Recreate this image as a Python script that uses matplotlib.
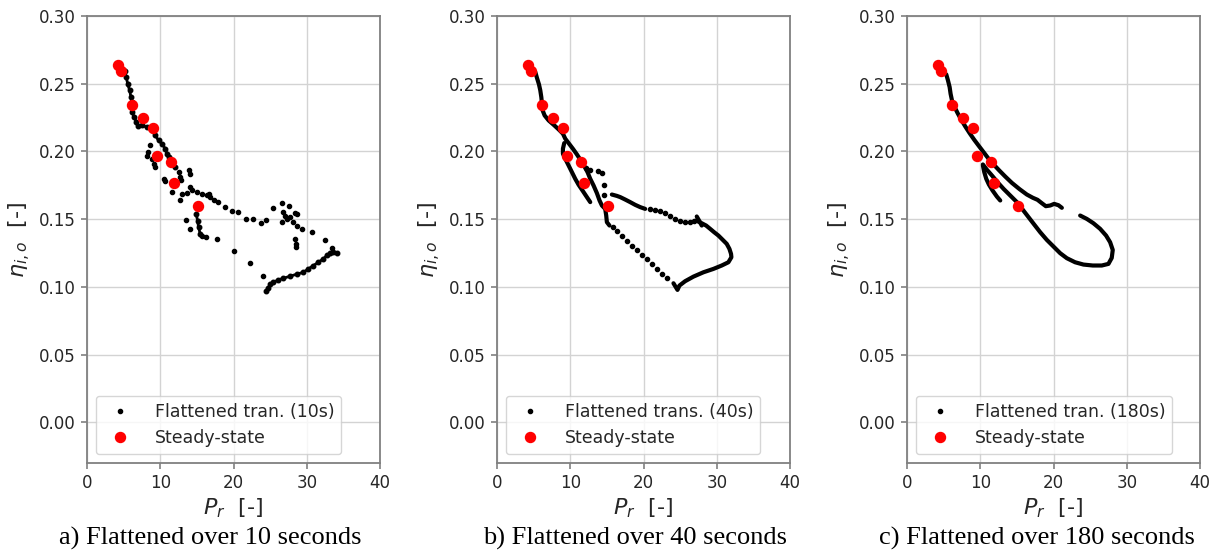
import matplotlib
matplotlib.use("Agg")
import matplotlib.pyplot as plt
from matplotlib.ticker import FormatStrFormatter

plt.rcParams["font.family"] = ["DejaVu Sans"]
plt.rcParams["mathtext.fontset"] = "dejavusans"

# ---------------- data ----------------
# steady-state operating points (same in all three panels)
ss_pr = [4.23, 4.64, 6.14, 7.64, 9.00, 9.59, 11.45, 11.90, 15.14]
ss_eta = [0.264, 0.2596, 0.2345, 0.2246, 0.2170, 0.1963, 0.1921, 0.1767, 0.1594]

# (a) flattened over 10 s : densely sampled stretches
a_main_pr = [5.14, 5.36, 5.55, 5.82, 6.00, 6.14, 6.14, 6.14, 6.45, 6.73, 6.91, 7.50,
             8.18, 8.86, 9.32, 9.77, 10.23, 10.68, 10.91, 11.14, 11.45, 12.05]
a_main_eta = [0.2591, 0.2549, 0.2500, 0.2451, 0.2401, 0.2365, 0.2328, 0.2291, 0.2254,
              0.2217, 0.2185, 0.2192, 0.2180, 0.2155, 0.2118, 0.2081, 0.2057, 0.2020,
              0.1983, 0.1958, 0.1921, 0.1884]
a_low_pr = [24.45, 24.77, 25.00, 25.45, 26.14, 26.82, 27.73, 28.64, 29.55, 30.23, 30.91,
            31.59, 32.27, 32.73, 33.18, 33.64, 34.09]
a_low_eta = [0.0973, 0.0993, 0.1022, 0.1034, 0.1052, 0.1064, 0.1079, 0.1094, 0.1108,
             0.1133, 0.1158, 0.1182, 0.1207, 0.1232, 0.1249, 0.1256, 0.1249]
a_drop_pr = [14.91, 15.09, 15.23, 15.45]
a_drop_eta = [0.1539, 0.1490, 0.1441, 0.1392]
# (a) isolated samples
a_dots_pr = [8.55, 8.27, 8.18, 8.86, 9.09, 9.32, 12.50, 12.73, 12.86, 13.86, 14.09, 10.45,
             10.68, 11.59, 12.95, 12.73, 13.64, 14.09, 14.32, 15.00, 15.68, 16.36, 16.82,
             17.27, 17.95, 18.86, 19.77, 20.55, 16.59, 21.73, 22.73, 23.77, 24.45, 25.36,
             26.59, 27.64, 26.82, 27.05, 26.59, 27.27, 27.73, 28.41, 28.64, 28.18, 28.64,
             29.32, 30.68, 28.41, 28.55, 28.50, 32.50, 33.41, 20.00, 22.27, 24.00, 15.68,
             16.27, 13.55, 14.00, 17.73]
a_dots_eta = [0.2044, 0.1995, 0.1970, 0.1946, 0.1909, 0.1884, 0.1847, 0.1810, 0.1786,
              0.1860, 0.1835, 0.1798, 0.1781, 0.1700, 0.1687, 0.1643, 0.1692, 0.1741,
              0.1712, 0.1700, 0.1687, 0.1675, 0.1663, 0.1643, 0.1626, 0.1589, 0.1564,
              0.1552, 0.1687, 0.1502, 0.1498, 0.1470, 0.1495, 0.1584, 0.1618, 0.1594,
              0.1552, 0.1527, 0.1478, 0.1502, 0.1515, 0.1547, 0.1539, 0.1478, 0.1453,
              0.1429, 0.1404, 0.1355, 0.1318, 0.1293, 0.1347, 0.1288, 0.1264, 0.1177,
              0.1084, 0.1379, 0.1372, 0.1495, 0.1429, 0.1355]

# (b) flattened over 40 s : densely sampled stretches
b_main_pr = [5.23, 5.45, 5.73, 5.91, 6.05, 6.14, 6.23, 6.50, 7.05, 7.73, 8.41, 9.00, 9.32,
             9.77, 10.36, 10.91, 11.45, 11.95, 12.36, 12.73, 13.18, 13.64, 14.00, 14.32,
             14.77, 14.91, 15.00, 15.36]
b_main_eta = [0.2586, 0.2544, 0.2495, 0.2451, 0.2401, 0.2352, 0.2303, 0.2266, 0.2229,
              0.2197, 0.2163, 0.2131, 0.2094, 0.2062, 0.2020, 0.1978, 0.1933, 0.1889,
              0.1847, 0.1798, 0.1749, 0.1692, 0.1638, 0.1601, 0.1576, 0.1527, 0.1478,
              0.1453]
b_inner_pr = [9.18, 9.00, 9.00, 9.32, 9.77, 10.23, 10.68, 11.14, 11.73, 12.27, 12.73]
b_inner_eta = [0.2062, 0.2020, 0.1983, 0.1946, 0.1897, 0.1847, 0.1798, 0.1754, 0.1707,
               0.1663, 0.1626]
b_upper_pr = [15.68, 16.36, 16.82, 17.50, 18.18, 18.86, 19.55, 20.23]
b_upper_eta = [0.1682, 0.1672, 0.1663, 0.1645, 0.1626, 0.1606, 0.1589, 0.1576]
b_knot_pr = [27.27, 27.64, 27.95]
b_knot_eta = [0.1520, 0.1485, 0.1453]
b_loop_pr = [27.18, 27.95, 28.55, 29.09, 29.64, 30.23, 30.77, 31.36, 31.73, 31.95, 32.00,
             31.59, 30.68, 29.55, 28.18, 26.82, 25.68, 24.91, 24.64, 24.09]
b_loop_eta = [0.1490, 0.1470, 0.1453, 0.1429, 0.1404, 0.1379, 0.1350, 0.1318, 0.1281,
              0.1244, 0.1219, 0.1182, 0.1158, 0.1133, 0.1108, 0.1076, 0.1042, 0.1010,
              0.0978, 0.1027]
# (b) isolated samples
b_dots_pr = [12.18, 12.73, 13.77, 14.32, 14.55, 14.55,
             20.91, 21.59, 22.27, 22.95, 23.64, 24.32, 25.00, 25.68, 26.36, 26.91,
             15.82, 16.36, 17.05, 17.73, 18.41, 19.09, 19.77, 20.45, 21.14, 21.82,
             22.50, 23.18]
b_dots_eta = [0.1877, 0.1865, 0.1855, 0.1840, 0.1756, 0.1675,
              0.1576, 0.1569, 0.1559, 0.1544, 0.1527, 0.1502, 0.1485, 0.1478, 0.1478,
              0.1490,
              0.1441, 0.1411, 0.1374, 0.1342, 0.1305, 0.1273, 0.1239, 0.1207, 0.1170,
              0.1133, 0.1096, 0.1067]

# (c) flattened over 180 s : densely sampled stretches
c_main_pr = [5.36, 5.59, 5.82, 5.95, 6.14, 6.45, 6.91, 7.41, 7.95, 8.55, 9.18, 9.86,
             10.55, 11.14, 11.82, 12.59, 13.41, 14.32, 15.36, 16.36, 17.18, 17.82, 18.41,
             18.95, 19.55, 20.09, 20.68, 21.14]
c_main_eta = [0.2569, 0.2525, 0.2475, 0.2426, 0.2377, 0.2333, 0.2283, 0.2234, 0.2185,
              0.2135, 0.2086, 0.2037, 0.1988, 0.1946, 0.1904, 0.1860, 0.1815, 0.1768,
              0.1722, 0.1682, 0.1658, 0.1643, 0.1618, 0.1596, 0.1601, 0.1613, 0.1603,
              0.1584]
c_loop_pr = [10.36, 10.91, 11.59, 12.36, 13.18, 14.09, 15.00, 15.82, 16.59, 17.36, 18.18,
             19.09, 20.00, 20.91, 21.82, 22.95, 24.09, 25.36, 26.59, 27.50, 27.95, 28.09,
             27.73, 27.18, 26.36, 25.45, 24.55, 23.64]
c_loop_eta = [0.1904, 0.1865, 0.1823, 0.1773, 0.1724, 0.1675, 0.1626, 0.1569, 0.1515,
              0.1461, 0.1404, 0.1347, 0.1298, 0.1249, 0.1212, 0.1182, 0.1165, 0.1158,
              0.1158, 0.1170, 0.1214, 0.1273, 0.1330, 0.1379, 0.1429, 0.1470, 0.1502,
              0.1527]
c_short_pr = [10.36, 10.55, 10.82, 11.18, 11.68, 12.27, 12.73]
c_short_eta = [0.1897, 0.1847, 0.1798, 0.1756, 0.1712, 0.1667, 0.1638]
c_dots_pr = []
c_dots_eta = []

panels = [
    dict(strands=[(a_main_pr, a_main_eta), (a_low_pr, a_low_eta), (a_drop_pr, a_drop_eta)],
         dots=(a_dots_pr, a_dots_eta), lw=2.0, beads=True,
         label="Flattened tran. (10s)", caption="a) Flattened over 10 seconds"),
    dict(strands=[(b_main_pr, b_main_eta), (b_inner_pr, b_inner_eta),
                  (b_upper_pr, b_upper_eta), (b_knot_pr, b_knot_eta), (b_loop_pr, b_loop_eta)],
         dots=(b_dots_pr, b_dots_eta), lw=3.0, beads=False,
         label="Flattened trans. (40s)", caption="b) Flattened over 40 seconds"),
    dict(strands=[(c_main_pr, c_main_eta), (c_loop_pr, c_loop_eta), (c_short_pr, c_short_eta)],
         dots=(c_dots_pr, c_dots_eta), lw=3.0, beads=False,
         label="Flattened tran. (180s)", caption="c) Flattened over 180 seconds"),
]

# ---------------- figure ----------------
W, H = 1217, 552
fig = plt.figure(figsize=(W / 100, H / 100), dpi=100)

ax_left_px = [87, 497, 907]
ax_w_px, ax_top_px, ax_bot_px = 293, 16, 463
caption_x_px = [210, 635, 1037]

spine_col = "#808080"
text_col = "#262626"

for i, p in enumerate(panels):
    ax = fig.add_axes([ax_left_px[i] / W, 1 - ax_bot_px / H,
                       ax_w_px / W, (ax_bot_px - ax_top_px) / H])
    ax.set_axisbelow(True)
    ax.grid(True, color="#d3d3d3", lw=1.0)

    # densely sampled stretches of the flattened transient
    for pr, eta in p["strands"]:
        ax.plot(pr, eta, "-", color="black", lw=p["lw"],
                marker="." if p["beads"] else None, ms=6.5,
                solid_capstyle="round", solid_joinstyle="round", zorder=2)
    # sparsely sampled stretches
    ax.plot(p["dots"][0], p["dots"][1], ".", color="black", ms=6, ls="none",
            label=p["label"], zorder=3)

    ax.plot(ss_pr, ss_eta, "o", color="red", ms=7.2, ls="none",
            label="Steady-state", zorder=4)

    ax.set_xlim(0, 40)
    ax.set_ylim(-0.03, 0.30)
    ax.set_xticks([0, 10, 20, 30, 40])
    ax.set_yticks([0.0, 0.05, 0.10, 0.15, 0.20, 0.25, 0.30])
    ax.yaxis.set_major_formatter(FormatStrFormatter("%.2f"))
    ax.tick_params(colors=spine_col, labelcolor=text_col, labelsize=12,
                   length=4.5, width=1.2)
    for s in ax.spines.values():
        s.set_color(spine_col)
        s.set_linewidth(1.3)

    ax.set_xlabel(r"$P_r$  [-]", fontsize=16, color=text_col, labelpad=3)
    ax.set_ylabel(r"$\eta_{i,o}$  [-]", fontsize=16, color=text_col, labelpad=4)

    leg = ax.legend(loc="lower left", fontsize=12.5, frameon=True, fancybox=True,
                    borderaxespad=0.5, handletextpad=1.0)
    leg.get_frame().set_edgecolor("#cccccc")
    for t in leg.get_texts():
        t.set_color(text_col)

    fig.text(caption_x_px[i] / W, 14 / H, p["caption"], ha="center", va="center",
             fontsize=19, family="Liberation Serif", color="black")

fig.savefig("out.png", dpi=100)
